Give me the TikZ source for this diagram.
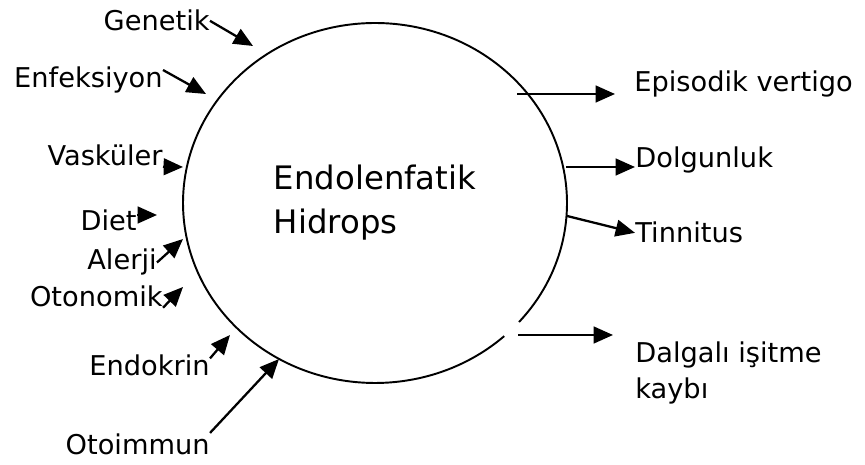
\documentclass[tikz,border=0pt]{standalone}
\usepackage{fontspec}
\setmainfont{DejaVu Sans}
\usetikzlibrary{arrows.meta, shapes.geometric}

\begin{document}
\begin{tikzpicture}[>={Triangle[length=11pt, width=9.5pt]},
    lbl/.style={inner sep=0pt, font=\fontsize{15.5}{20.5}\selectfont},
    conn/.style={->, line width=1.3pt}]
  \useasboundingbox (0,0) rectangle (17.3,9.3);
  % centre
  \node[ellipse, minimum width=7.68cm, minimum height=7.2cm, inner sep=0pt, align=left,
        font=\fontsize{18.4}{25}\selectfont] (hyd) at (7.5,5.24) {Endolenfatik\\Hidrops};
  \draw[line width=1.1pt] (hyd.center) ++(-41.4:3.84 and 3.6)
    arc[start angle=-41.4, end angle=312.3, x radius=3.84, y radius=3.6];
  % causes
  \node[lbl, anchor=base east] (gen) at (4.2,8.68) {Genetik};
  \node[lbl, anchor=base east] (enf) at (3.26,7.54) {Enfeksiyon};
  \node[lbl, anchor=base east] (vas) at (3.26,5.98) {Vasküler};
  \node[lbl, anchor=base east] (diet) at (2.74,4.68) {Diet};
  \node[lbl, anchor=base east] (alr) at (3.14,3.9) {Alerji};
  \node[lbl, anchor=base east] (oto) at (3.26,3.16) {Otonomik};
  \node[lbl, anchor=base east] (endo) at (4.2,1.78) {Endokrin};
  \node[lbl, anchor=base east] (otoim) at (4.2,0.22) {Otoimmun};
  \coordinate (t1) at (5.06,8.38);
  \coordinate (t2) at (4.12,7.42);
  \coordinate (t3) at (3.66,5.96);
  \coordinate (t4) at (3.14,5.0);
  \coordinate (t5) at (3.66,4.52);
  \coordinate (t6) at (3.66,3.56);
  \coordinate (t7) at (4.6,2.6);
  \coordinate (t8) at (5.58,2.12);
  \draw[conn] (gen.east) -- (t1);
  \draw[conn] (enf.8) -- (t2);
  \draw[conn] (vas.south east) -- (t3);
  \draw[conn] (t4 -| diet.east) -- (t4);
  \draw[conn] (alr.east) -- (t5);
  \draw[conn] (oto.south east) -- (t6);
  \draw[conn] (endo.7) -- (t7);
  \draw[conn] (otoim.north east) -- (t8);
  % symptoms
  \node[lbl, anchor=base west] (epi) at (12.68,7.46) {Episodik vertigo};
  \node[lbl, anchor=base west] (dolg) at (12.7,5.94) {Dolgunluk};
  \node[lbl, anchor=base west] (tin) at (12.7,4.44) {Tinnitus};
  \node[lbl, anchor=north west, align=left] (dalg) at (12.7,2.475) {Dalgalı işitme\\kaybı};
  \coordinate (s1) at (10.34,7.42);
  \coordinate (s2) at (11.32,5.96);
  \coordinate (s3) at (11.34,4.98);
  \coordinate (s4) at (10.36,2.6);
  \draw[conn, shorten >=0.38cm] (s1) -- (s1 -| epi.west);
  \draw[conn] (s2) -- (s2 -| dolg.west);
  \draw[conn] (s3) -- (tin.west);
  \draw[conn, shorten >=0.44cm] (s4) -- (s4 -| dalg.west);
\end{tikzpicture}
\end{document}
